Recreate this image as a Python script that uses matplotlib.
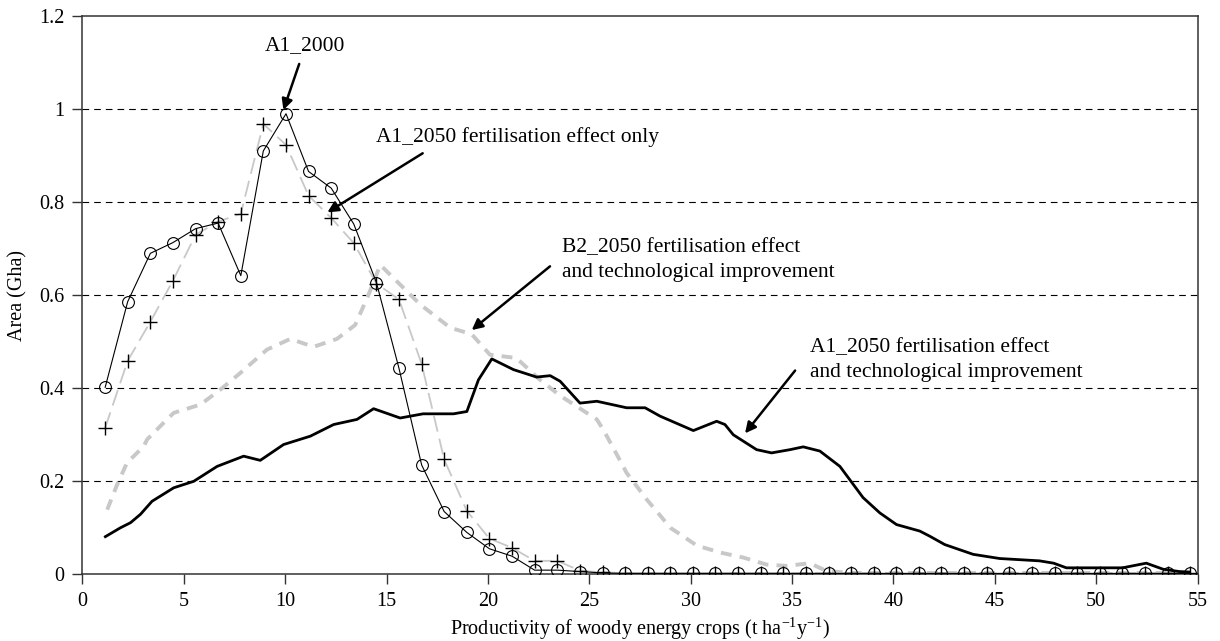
import matplotlib
matplotlib.use("Agg")
import matplotlib.pyplot as plt

plt.rcParams['font.family'] = ['Liberation Serif', 'DejaVu Serif']
plt.rcParams['mathtext.fontset'] = 'custom'
plt.rcParams['mathtext.rm'] = 'Liberation Serif'
plt.rcParams['mathtext.it'] = 'Liberation Serif:italic'

# marker positions (t/ha/y)
xm = [1.12, 2.23, 3.35, 4.46, 5.58, 6.69, 7.81, 8.92, 10.04, 11.15, 12.27, 13.38,
      14.50, 15.61, 16.73, 17.84, 18.96, 20.07, 21.19, 22.30, 23.42, 24.53, 25.65,
      26.76, 27.88, 28.99, 30.11, 31.22, 32.34, 33.45, 34.57, 35.68, 36.80, 37.91,
      39.03, 40.14, 41.26, 42.37, 43.49, 44.60, 45.72, 46.83, 47.95, 49.06, 50.18,
      51.29, 52.41, 53.52, 54.64]

a1_2000 = [0.402, 0.586, 0.690, 0.713, 0.743, 0.755, 0.642, 0.910, 0.990, 0.866,
           0.830, 0.753, 0.627, 0.443, 0.235, 0.135, 0.090, 0.055, 0.039, 0.009,
           0.009, 0.006, 0.003, 0.002, 0.002, 0.002, 0.002, 0.002, 0.002, 0.002,
           0.002, 0.002, 0.002, 0.002, 0.002, 0.002, 0.002, 0.002, 0.002, 0.002,
           0.002, 0.002, 0.002, 0.002, 0.002, 0.002, 0.002, 0.002, 0.002]

a1_fert = [0.315, 0.459, 0.543, 0.631, 0.730, 0.758, 0.775, 0.968, 0.923, 0.814,
           0.766, 0.712, 0.625, 0.591, 0.452, 0.247, 0.136, 0.077, 0.057, 0.029,
           0.029, 0.008, 0.004, 0.003, 0.003, 0.003, 0.003, 0.003, 0.003, 0.003,
           0.003, 0.003, 0.003, 0.003, 0.003, 0.003, 0.003, 0.003, 0.003, 0.003,
           0.003, 0.003, 0.003, 0.003, 0.003, 0.003, 0.003, 0.003, 0.003]

# B2_2050 fertilisation + technology
b2_x = [1.22, 1.71, 2.2, 3.02, 3.19, 4.17, 4.5, 5.82, 6.8, 7.79, 9.1, 10.25, 11.4,
        12.55, 13.45, 14.1, 14.69, 15.5, 16.66, 18.14, 19.2, 20.1, 21.4, 22.57,
        23.56, 25.37, 25.7, 26.35, 26.84, 27.83, 29.0, 30.3, 31.44, 32.6, 33.74,
        34.73, 35.88, 36.7, 38.0, 54.6]
b2_y = [0.139, 0.193, 0.240, 0.275, 0.290, 0.333, 0.347, 0.365, 0.397, 0.433, 0.483,
        0.506, 0.489, 0.506, 0.536, 0.600, 0.665, 0.630, 0.580, 0.530, 0.516, 0.472,
        0.465, 0.418, 0.384, 0.333, 0.310, 0.258, 0.218, 0.161, 0.100, 0.062, 0.047,
        0.036, 0.021, 0.018, 0.024, 0.007, 0.003, 0.003]

# A1_2050 fertilisation + technology
a1t_x = [1.13, 1.87, 2.37, 2.86, 3.43, 4.5, 5.49, 6.64, 7.95, 8.77, 9.92, 11.24,
         12.39, 13.54, 14.36, 15.67, 16.8, 18.3, 18.96, 19.53, 20.19, 21.26, 22.4,
         23.07, 23.56, 24.54, 25.37, 26.84, 27.75, 28.49, 30.13, 31.28, 31.69, 32.1,
         33.25, 33.99, 34.9, 35.55, 36.37, 37.36, 38.5, 39.33, 40.15, 41.3, 41.79,
         42.53, 43.93, 45.24, 47.2, 47.9, 48.53, 51.3, 52.47, 53.3, 54.1, 54.6]
a1t_y = [0.081, 0.100, 0.111, 0.129, 0.157, 0.186, 0.200, 0.232, 0.254, 0.245, 0.279,
         0.297, 0.322, 0.333, 0.356, 0.336, 0.345, 0.345, 0.350, 0.418, 0.463, 0.440,
         0.424, 0.427, 0.415, 0.368, 0.372, 0.358, 0.358, 0.340, 0.309, 0.329, 0.322,
         0.300, 0.268, 0.261, 0.268, 0.274, 0.265, 0.232, 0.165, 0.132, 0.107, 0.093,
         0.082, 0.064, 0.043, 0.034, 0.029, 0.024, 0.014, 0.014, 0.024, 0.011, 0.006,
         0.005]

grey = '#c8c8c8'

fig = plt.figure(figsize=(12.2, 6.41), dpi=100)
ax = fig.add_axes([0.0676, 0.104, 0.9140, 0.871])

ax.plot(b2_x, b2_y, color=grey, lw=2.8, dashes=(2.8, 2.1), zorder=2)
ax.plot(xm, a1_fert, color=grey, lw=1.3, dashes=(9, 4), zorder=2)
ax.plot(a1t_x, a1t_y, color='black', lw=2.0, zorder=3)
ax.plot(xm, a1_2000, color='black', lw=0.8, marker='o', ms=8.5, mfc='none',
        mec='black', mew=0.8, zorder=4)
ax.plot(xm, a1_fert, ls='none', marker='+', ms=9.5, mec='black', mew=1.0, zorder=5)

ax.set_xlim(0, 55)
ax.set_ylim(0, 1.2)
ax.set_xticks(range(0, 56, 5))
ax.set_yticks([0, 0.2, 0.4, 0.6, 0.8, 1.0, 1.2])
ax.set_yticklabels(['0', '0.2', '0.4', '0.6', '0.8', '1', '1.2'])
for yv in [0.2, 0.4, 0.6, 0.8, 1.0]:
    ax.axhline(yv, color='black', lw=0.8, dashes=(6, 4.5), zorder=1)

for s in ax.spines.values():
    s.set_color('#333333')
    s.set_linewidth(1.1)
ax.tick_params(direction='out', length=7, width=1.0, color='#333333',
               labelsize=14.5, pad=6)

ax.set_xlabel(r'Productivity of woody energy crops (t ha$^{\mathrm{-1}}$y$^{\mathrm{-1}}$)',
              fontsize=14.5, labelpad=3)
ax.set_ylabel('Area (Gha)', fontsize=14.5, labelpad=8)

arrow = dict(arrowstyle='-|>', color='black', lw=1.8, mutation_scale=16,
             shrinkA=0, shrinkB=0)
fs = 15.5
ax.annotate('', xy=(9.91, 0.998), xytext=(10.69, 1.097), arrowprops=arrow)
ax.text(9.0, 1.1275, 'A1_2000', fontsize=fs, va='baseline')

ax.annotate('', xy=(12.08, 0.778), xytext=(16.78, 0.905), arrowprops=arrow)
ax.text(14.48, 0.93, 'A1_2050 fertilisation effect only', fontsize=fs, va='baseline')

ax.annotate('', xy=(19.2, 0.525), xytext=(23.06, 0.662), arrowprops=arrow)
ax.text(23.66, 0.693, 'B2_2050 fertilisation effect', fontsize=fs, va='baseline')
ax.text(23.66, 0.640, 'and technological improvement', fontsize=fs, va='baseline')

ax.annotate('', xy=(32.68, 0.303), xytext=(35.15, 0.438), arrowprops=arrow)
ax.text(35.88, 0.478, 'A1_2050 fertilisation effect', fontsize=fs, va='baseline')
ax.text(35.88, 0.4245, 'and technological improvement', fontsize=fs, va='baseline')

fig.savefig('out.png', dpi=100)
